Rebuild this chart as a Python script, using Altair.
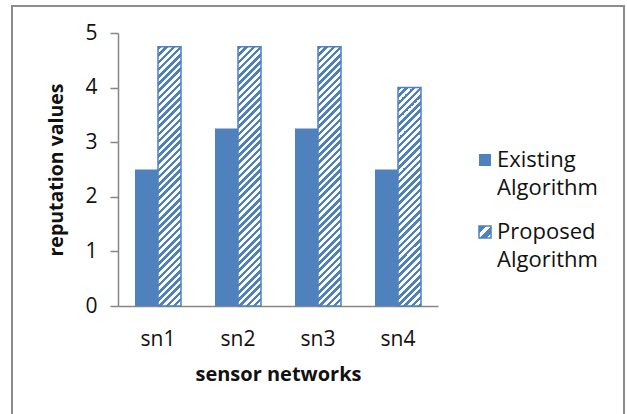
import altair as alt
import pandas as pd

categories = ["sn1", "sn2", "sn3", "sn4"]
existing = [2.5, 3.25, 3.25, 2.5]
proposed = [4.75, 4.75, 4.75, 4.0]
series_names = ["Existing Algorithm", "Proposed Algorithm"]
y_ticks = [0, 1, 2, 3, 4, 5]

BLUE = "#4F81BD"
GRAY = "#868686"
FONT = "Open Sans"

W, H = 320, 273
PAD = {"left": 118, "top": 33, "right": 627 - 118 - W, "bottom": 414 - 33 - H}
YMAX = 5
BAR_W = 23.0
PERIOD = 7.2
BLUE_FRAC = 0.5

rows = []
for c, e, p in zip(categories, existing, proposed):
    rows.append({"sn": c, "series": series_names[0], "value": e})
    rows.append({"sn": c, "series": series_names[1], "value": p})
df = pd.DataFrame(rows)


def hatch(w, h, period=PERIOD, frac=BLUE_FRAC):
    L = w + h
    den = w * w + h * h
    c = L / den
    stops = [{"offset": 0, "color": "white"}]
    s = 0.0
    while s < L:
        e = min(s + period * frac, L)
        stops += [
            {"offset": s / L, "color": "white"},
            {"offset": s / L, "color": BLUE},
            {"offset": e / L, "color": BLUE},
            {"offset": e / L, "color": "white"},
        ]
        s += period
    stops.append({"offset": 1, "color": "white"})
    return {
        "gradient": "linear",
        "x1": 0, "y1": 0,
        "x2": w * c, "y2": h * c,
        "stops": stops,
    }


x_enc = alt.X(
    "sn:N",
    sort=categories,
    scale=alt.Scale(paddingInner=0.425, paddingOuter=0.2125),
    axis=alt.Axis(
        title="sensor networks",
        ticks=False,
        domainColor=GRAY,
        domainWidth=1.5,
        labelAngle=0,
        labelFont=FONT,
        labelFontSize=21,
        labelColor="#111",
        labelBaseline="alphabetic",
        labelPadding=39,
        titleFont=FONT,
        titleFontSize=20,
        titleFontWeight="bold",
        titleColor="#111",
        titleBaseline="alphabetic",
        titleY=74,
    ),
)
xo_enc = alt.XOffset(
    "series:N", sort=series_names,
    scale=alt.Scale(paddingInner=0, paddingOuter=0),
)
y_enc = alt.Y(
    "value:Q",
    scale=alt.Scale(domain=[0, YMAX], nice=False),
    axis=alt.Axis(
        title="reputation values",
        values=y_ticks,
        grid=False,
        domainColor=GRAY,
        domainWidth=1.5,
        tickColor=GRAY,
        tickWidth=1.5,
        tickSize=8,
        labelPadding=13,
        labelFont=FONT,
        labelFontSize=21,
        labelColor="#111",
        titleFont=FONT,
        titleFontSize=19.5,
        titleFontWeight="bold",
        titleColor="#111",
        titleBaseline="middle",
        titleX=-62,
    ),
)

base = alt.Chart(df).encode(x=x_enc, xOffset=xo_enc, y=y_enc)

layers = [
    base.transform_filter(alt.datum.series == series_names[0]).mark_bar(
        fill=BLUE
    )
]
for c, p in zip(categories, proposed):
    h = p * H / YMAX
    layers.append(
        base.transform_filter(
            (alt.datum.series == series_names[1]) & (alt.datum.sn == c)
        ).mark_bar(fill=hatch(BAR_W, h), stroke=BLUE, strokeWidth=1.5)
    )

# frame
one = alt.Data(values=[{"k": 1}])
frame = alt.Chart(one).mark_rect(
    fill=None, stroke="#8C8C8C", strokeWidth=2
).encode(
    x=alt.value(12 - PAD["left"]), x2=alt.value(624 - PAD["left"]),
    y=alt.value(6 - PAD["top"]), y2=alt.value(430 - PAD["top"]),
)

# legend
LX = 479 - PAD["left"]
sq = 12
leg_exist = alt.Chart(one).mark_rect(fill=BLUE).encode(
    x=alt.value(LX), x2=alt.value(LX + sq),
    y=alt.value(154 - PAD["top"]), y2=alt.value(154 + sq - PAD["top"]),
)
leg_prop = alt.Chart(one).mark_rect(
    fill=hatch(sq, sq, period=12, frac=0.62), stroke=BLUE, strokeWidth=1.5
).encode(
    x=alt.value(LX), x2=alt.value(LX + sq),
    y=alt.value(226 - PAD["top"]), y2=alt.value(226 + sq - PAD["top"]),
)
leg_text1 = alt.Chart(one).mark_text(
    align="left", baseline="middle", font=FONT, fontSize=22, color="#111",
    lineHeight=28,
).encode(
    x=alt.value(497 - PAD["left"]), y=alt.value(160 - PAD["top"]),
    text=alt.value(series_names[0].split(" ")),
)
leg_text2 = alt.Chart(one).mark_text(
    align="left", baseline="middle", font=FONT, fontSize=22, color="#111",
    lineHeight=28,
).encode(
    x=alt.value(497 - PAD["left"]), y=alt.value(232 - PAD["top"]),
    text=alt.value(series_names[1].split(" ")),
)

chart = alt.layer(
    *layers, frame, leg_exist, leg_prop, leg_text1, leg_text2
).properties(
    width=W, height=H, padding=PAD,
    autosize=alt.AutoSizeParams(type="none"),
    background="white",
).configure_view(stroke=None)

chart.save("out.html", embed_options={"renderer": "svg", "actions": False})
